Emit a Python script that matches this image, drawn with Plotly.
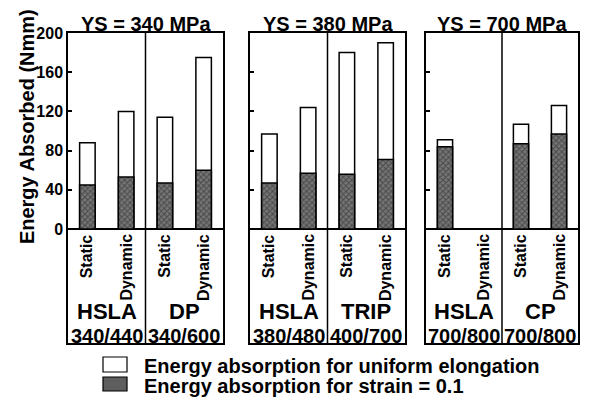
import plotly.graph_objects as go

# ---- data ----
ys_groups = ["YS = 340 MPa", "YS = 380 MPa", "YS = 700 MPa"]
steels = ["HSLA", "DP", "HSLA", "TRIP", "HSLA", "CP"]
grades = ["340/440", "340/600", "380/480", "400/700", "700/800", "700/800"]
conditions = ["Static", "Dynamic"]
# energy absorption for uniform elongation (total bar height), Nmm
uniform_elongation = [88, 120, 114, 175, 97, 124, 180, 190, 91, None, 107, 126]
# energy absorption for strain = 0.1, Nmm
strain_01 = [45, 53, 47, 60, 47, 57, 56, 71, 84, None, 87, 97]
y_ticks = [0, 40, 80, 120, 160, 200]
y_title = "Energy Absorbed (Nmm)"
legend_labels = ["Energy absorption for uniform elongation", "Energy absorption for strain = 0.1"]

FONT = "Liberation Sans, Arial, sans-serif"
W, H = 589, 403
M_T, M_B = 33, 60
PH = H - M_T - M_B
Y_MIN, Y_MAX = -116.3, 200
domains = [(68 / W, 223 / W), (250 / W, 405 / W), (426 / W, 578 / W)]

fig = go.Figure()
annotations = []
shapes = []

for p in range(3):
    ax = "" if p == 0 else str(p + 1)
    cats = []
    for g in range(2):
        si = 2 * p + g
        for c in conditions:
            cats.append(f"{steels[si]} {grades[si]} {c}")
    tot = uniform_elongation[4 * p:4 * p + 4]
    low = strain_01[4 * p:4 * p + 4]
    fig.add_trace(go.Bar(
        x=cats, y=tot, xaxis="x" + ax, yaxis="y" + ax, width=0.4,
        marker=dict(color="white", line=dict(color="black", width=1.5)),
        name=legend_labels[0], showlegend=False, hoverinfo="y"))
    fig.add_trace(go.Bar(
        x=cats, y=low, xaxis="x" + ax, yaxis="y" + ax, width=0.4,
        marker=dict(color="#767676", line=dict(color="black", width=1.5),
                    pattern=dict(shape="x", fgcolor="#1c1c1c", bgcolor="#767676", size=4, solidity=0.45)),
        name=legend_labels[1], showlegend=False, hoverinfo="y"))

    fig.update_layout(**{
        "xaxis" + ax: dict(domain=list(domains[p]), anchor="y" + ax, type="category",
                           categoryorder="array", categoryarray=cats, range=[-0.5, 3.5],
                           showticklabels=False, ticks="", showgrid=False, zeroline=False,
                           showline=True, mirror=True, linecolor="black", linewidth=1.5),
        "yaxis" + ax: dict(domain=[0, 1], anchor="x" + ax, range=[Y_MIN, Y_MAX],
                           tickvals=y_ticks, showticklabels=(p == 0), ticks="inside", ticklen=4,
                           tickwidth=1.5, tickcolor="black", showgrid=False,
                           zeroline=True, zerolinecolor="black", zerolinewidth=1.5,
                           showline=True, mirror=True, linecolor="black", linewidth=1.5,
                           tickfont=dict(family=FONT, size=16, color="black", weight="bold")),
    })

    # divider between the two steels of the panel
    shapes.append(dict(type="line", xref="x" + ax, yref="y" + ax, x0=1.5, x1=1.5,
                       y0=Y_MIN, y1=Y_MAX, line=dict(color="black", width=1.5)))
    # panel title
    annotations.append(dict(text=ys_groups[p], xref="x" + ax + " domain", x=0.5, yref="paper",
                            y=(H - M_B - 24) / PH, xanchor="center", yanchor="middle", showarrow=False,
                            font=dict(family=FONT, size=20, color="black", weight="bold")))
    for i in range(4):
        annotations.append(dict(text=conditions[i % 2], xref="x" + ax, x=i, yref="y" + ax, y=-3,
                                xanchor="center", yanchor="top", textangle=-90, showarrow=False,
                                font=dict(family=FONT, size=16, color="black", weight="bold")))
    for g in range(2):
        si = 2 * p + g
        annotations.append(dict(text=steels[si], xref="x" + ax, x=2 * g + 0.5, yref="y" + ax, y=-84,
                                xanchor="center", yanchor="middle", showarrow=False,
                                font=dict(family=FONT, size=22, color="black", weight="bold")))
        annotations.append(dict(text=grades[si], xref="x" + ax, x=2 * g + 0.5, yref="y" + ax, y=-109,
                                xanchor="center", yanchor="middle", showarrow=False,
                                font=dict(family=FONT, size=20, color="black", weight="bold")))

# y-axis title
annotations.append(dict(text=y_title, xref="paper", x=27 / W, yref="y", y=104, textangle=-90,
                        xanchor="center", yanchor="middle", showarrow=False,
                        font=dict(family=FONT, size=20, color="black", weight="bold")))


def py(pix):
    return (H - M_B - pix) / PH


# legend (drawn)
shapes.append(dict(type="rect", xref="paper", yref="paper", x0=103 / W, x1=127 / W,
                   y0=py(372), y1=py(357), fillcolor="white", line=dict(color="black", width=1.2)))
shapes.append(dict(type="rect", xref="paper", yref="paper", x0=103 / W, x1=127 / W,
                   y0=py(391), y1=py(377), fillcolor="#5e5e5e", line=dict(color="black", width=1.2)))
annotations.append(dict(text=legend_labels[0], xref="paper", x=142 / W, yref="paper", y=py(366),
                        xanchor="left", yanchor="middle", showarrow=False,
                        font=dict(family=FONT, size=20, color="black", weight="bold")))
annotations.append(dict(text=legend_labels[1], xref="paper", x=142 / W, yref="paper", y=py(386),
                        xanchor="left", yanchor="middle", showarrow=False,
                        font=dict(family=FONT, size=20, color="black", weight="bold")))

fig.update_layout(
    width=W, height=H, barmode="overlay", showlegend=False,
    margin=dict(l=0, r=0, t=M_T, b=M_B, autoexpand=False),
    paper_bgcolor="white", plot_bgcolor="white",
    annotations=annotations, shapes=shapes,
)

fig.write_html("out.html", config={"displayModeBar": False},
               post_script="document.body.style.margin='0';")
